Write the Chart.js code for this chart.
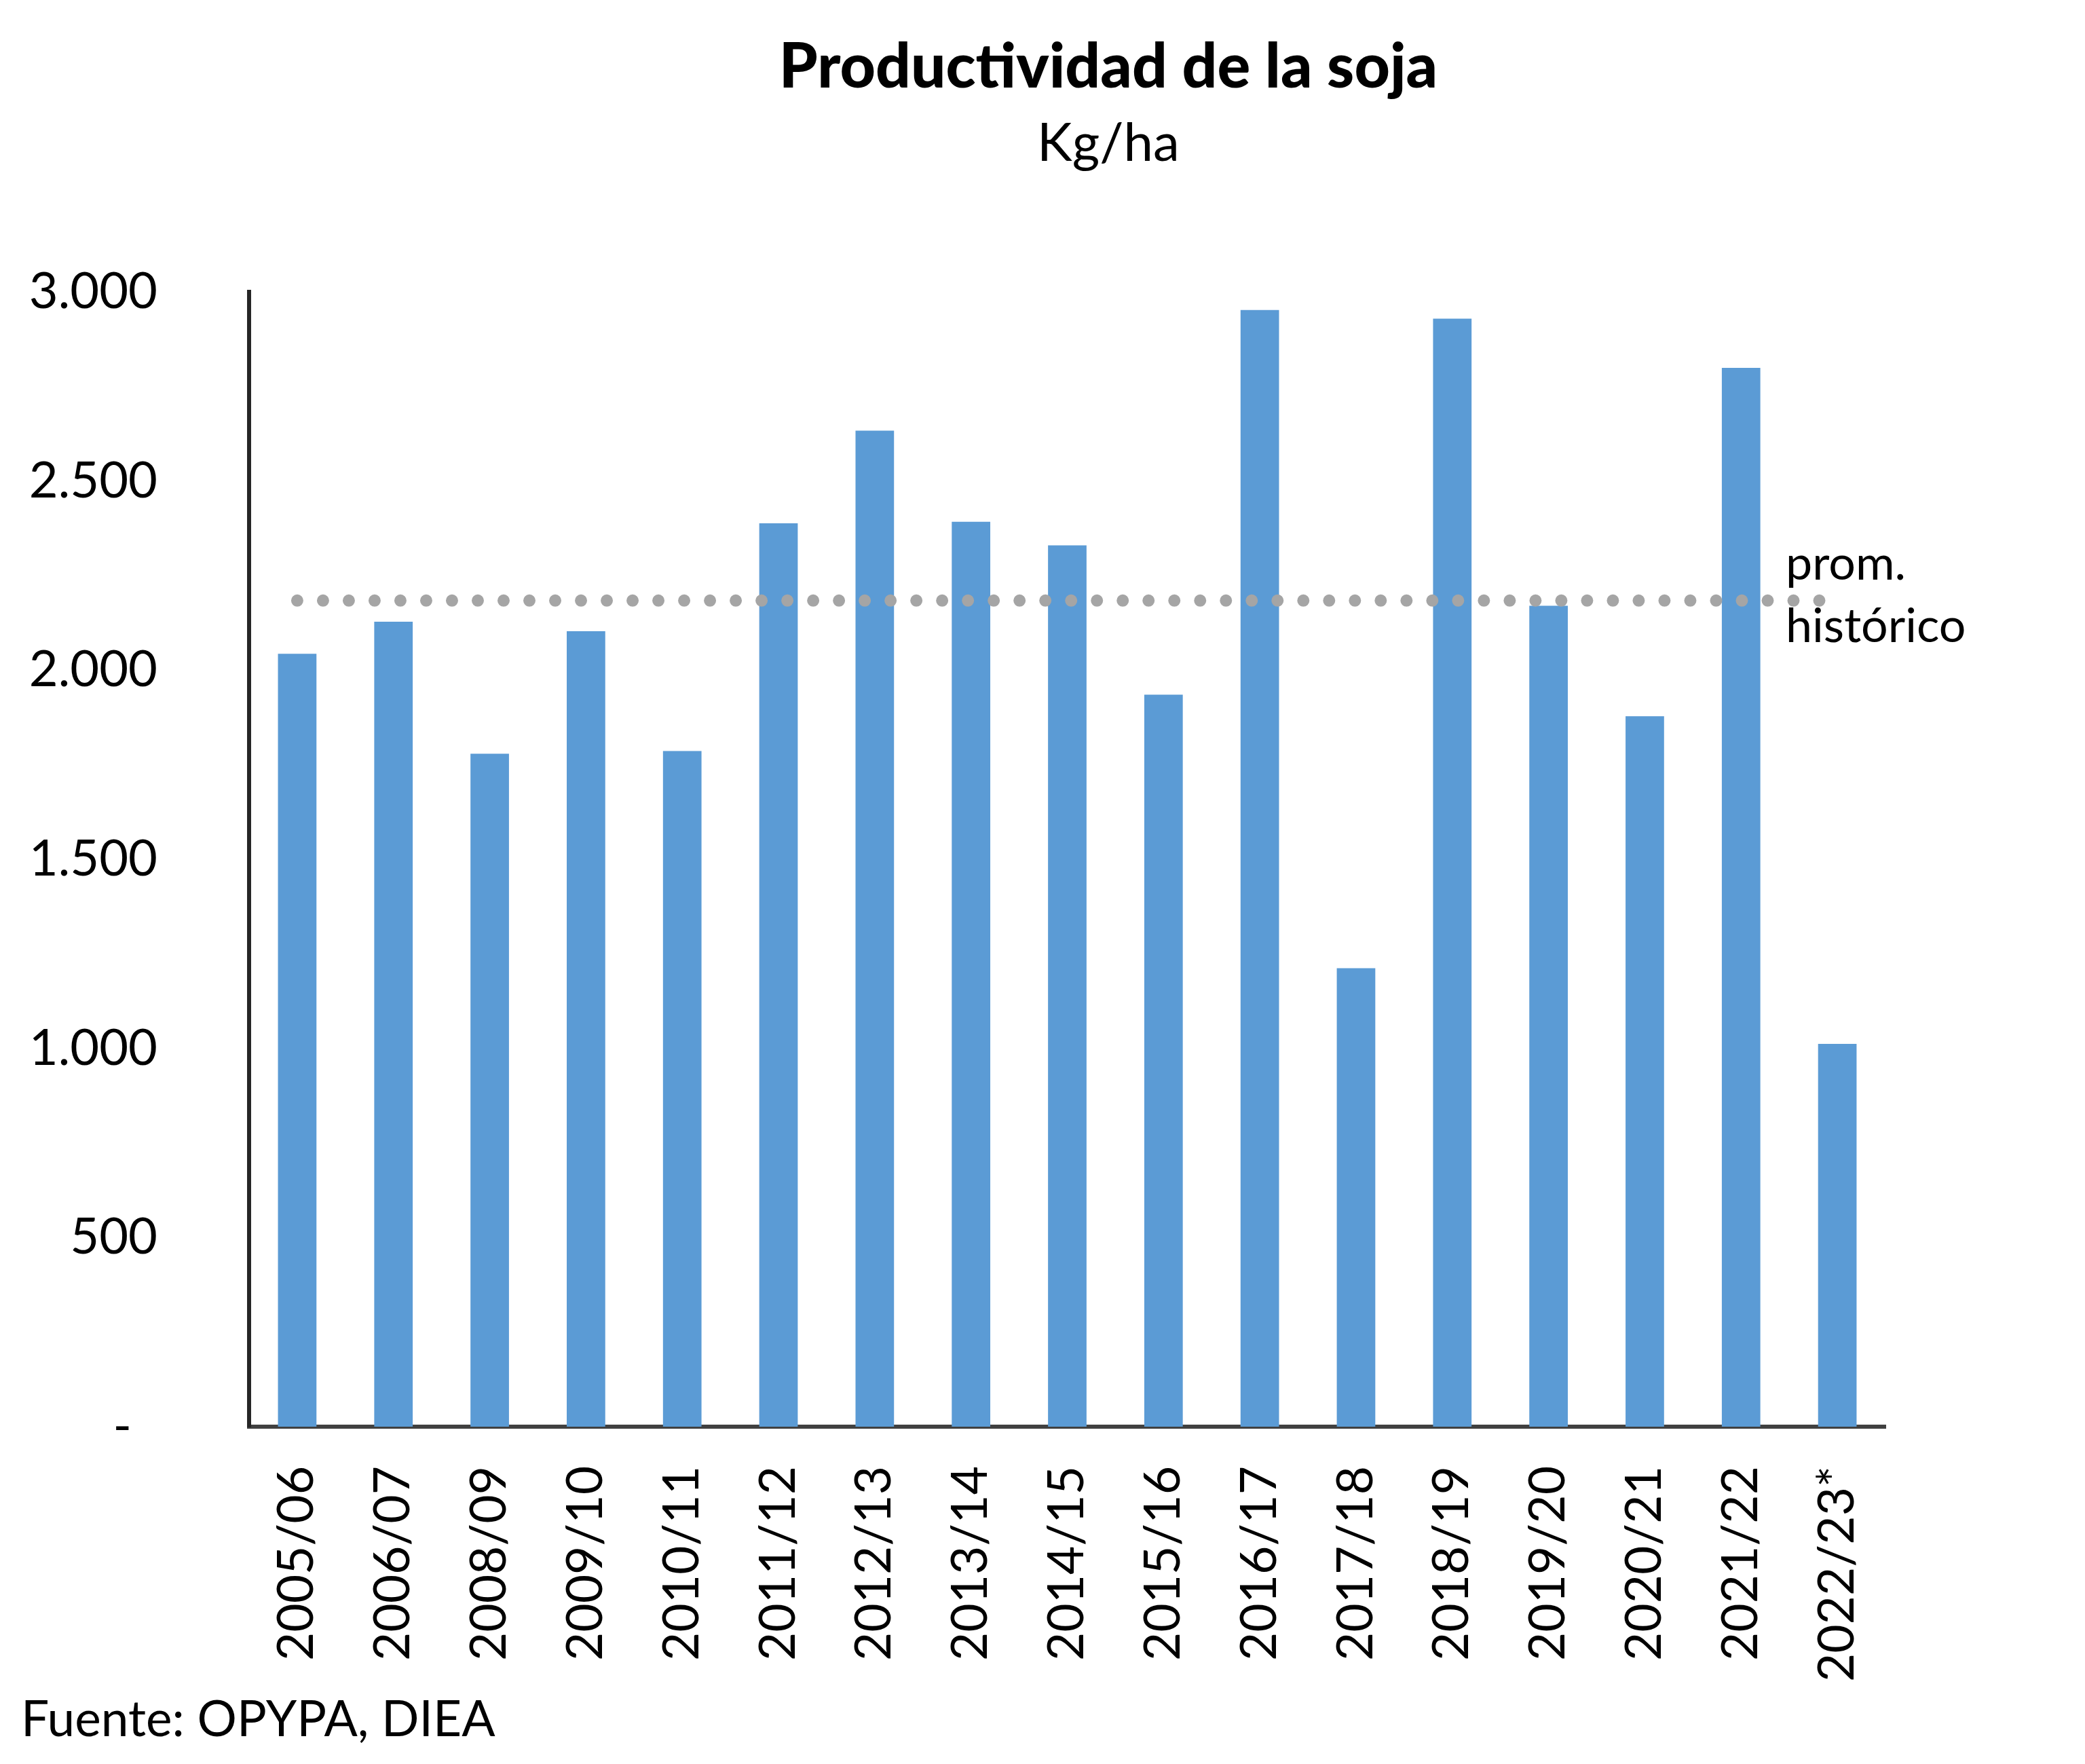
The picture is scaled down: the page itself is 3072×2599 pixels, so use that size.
<!DOCTYPE html>
<html>
<head>
<meta charset="utf-8">
<script src="https://cdn.jsdelivr.net/npm/chart.js@4/dist/chart.umd.min.js"></script>
<style>html,body{margin:0;padding:0;background:#fff;}canvas{display:block;}</style>
</head>
<body>
<canvas id="c" width="3072" height="2599"></canvas>
<script>
// ---- data ----
const categories = ['2005/06','2006/07','2008/09','2009/10','2010/11','2011/12','2012/13','2013/14','2014/15','2015/16','2016/17','2017/18','2018/19','2019/20','2020/21','2021/22','2022/23*'];
const yieldKgHa = [2043, 2128, 1779, 2103, 1786, 2388, 2633, 2392, 2330, 1935, 2952, 1212, 2929, 2170, 1878, 2799, 1012];
const historicAverage = [2184, 2184, 2184, 2184, 2184, 2184, 2184, 2184, 2184, 2184, 2184, 2184, 2184, 2184, 2184, 2184, 2184];
const yTickValues = [0, 500, 1000, 1500, 2000, 2500, 3000];
const titleText = 'Productividad de la soja';
const subtitleText = 'Kg/ha';
const avgLabel = ['prom.', 'histórico'];
const sourceText = 'Fuente: OPYPA, DIEA';

const FONT = 'Lato, Carlito, Calibri, sans-serif';

function fmt(v) {
  if (v === 0) return '-  ';
  return String(v).replace(/\B(?=(\d{3})+(?!\d))/g, '.');
}

const textPlugin = {
  id: 'texts',
  afterDraw(chart) {
    const ctx = chart.ctx;
    ctx.save();
    ctx.fillStyle = '#000';
    ctx.textAlign = 'center';
    ctx.textBaseline = 'alphabetic';
    ctx.font = '900 91px ' + FONT;
    ctx.fillText(titleText, 1633, 129);
    ctx.font = '78px ' + FONT;
    ctx.fillText(subtitleText, 1633, 237);
    // average label
    const yAvg = chart.scales.y.getPixelForValue(historicAverage[0]);
    ctx.textAlign = 'left';
    ctx.font = '70px ' + FONT;
    ctx.fillText(avgLabel[0], 2631, yAvg - 31);
    ctx.fillText(avgLabel[1], 2631, yAvg + 61);
    // source
    ctx.font = '73px ' + FONT;
    ctx.fillText(sourceText, 31, 2558);
    ctx.restore();
  }
};

new Chart(document.getElementById('c'), {
  data: {
    labels: categories,
    datasets: [
      {
        type: 'line',
        data: historicAverage,
        borderColor: '#A5A5A5',
        borderWidth: 18,
        borderDash: [0.01, 38],
        borderCapStyle: 'round',
        pointRadius: 0,
        fill: false,
        order: 0
      },
      {
        type: 'bar',
        data: yieldKgHa,
        backgroundColor: '#5B9BD5',
        borderWidth: 0,
        barPercentage: 0.4,
        categoryPercentage: 1.0,
        order: 1
      }
    ]
  },
  options: {
    responsive: false,
    animation: false,
    events: [],
    layout: { padding: { left: 0, right: 294, top: 430, bottom: 0 } },
    plugins: {
      legend: { display: false },
      tooltip: { enabled: false },
      title: { display: false }
    },
    scales: {
      x: {
        grid: { display: false, drawTicks: false },
        border: { display: true, color: '#404040', width: 6 },
        ticks: {
          autoSkip: false,
          minRotation: 90,
          maxRotation: 90,
          padding: 58,
          color: '#000',
          font: { family: FONT, size: 73 }
        },
        afterFit(scale) { scale.height = 2599 - 2102; }
      },
      y: {
        min: 0,
        max: 3000,
        afterBuildTicks(scale) { scale.ticks = yTickValues.map(v => ({ value: v })); },
        grid: { display: false, drawTicks: false },
        border: { display: true, color: '#262626', width: 6 },
        ticks: {
          padding: 135,
          color: '#000',
          font: { family: FONT, size: 74 },
          callback: (v) => fmt(v)
        },
        afterFit(scale) { scale.width = 367; }
      }
    }
  },
  plugins: [textPlugin]
});
</script>
</body>
</html>
